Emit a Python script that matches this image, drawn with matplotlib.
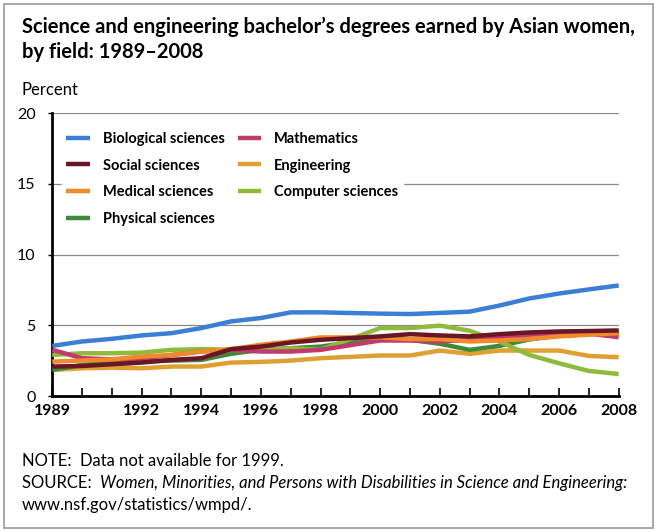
import matplotlib.pyplot as plt
from matplotlib.patches import Rectangle

# 1999 not available -> skipped
years = [1989, 1990, 1991, 1992, 1993, 1994, 1995, 1996, 1997, 1998,
         2000, 2001, 2002, 2003, 2004, 2005, 2006, 2007, 2008]

biological = [3.55, 3.86, 4.05, 4.29, 4.45, 4.81, 5.28, 5.52, 5.92, 5.92,
              5.83, 5.80, 5.88, 5.97, 6.40, 6.90, 7.25, 7.54, 7.82]
social = [2.09, 2.13, 2.25, 2.37, 2.56, 2.68, 3.32, 3.50, 3.79, 3.98,
          4.22, 4.38, 4.29, 4.22, 4.38, 4.50, 4.57, 4.60, 4.64]
medical = [2.44, 2.51, 2.60, 2.80, 2.91, 3.15, 3.32, 3.63, 3.86, 4.15,
           4.15, 4.03, 4.03, 3.86, 3.93, 4.03, 4.22, 4.34, 4.45]
physical = [1.85, 2.20, 2.37, 2.44, 2.51, 2.56, 2.99, 3.27, 3.39, 3.50,
            4.10, 3.98, 3.70, 3.27, 3.55, 4.00, 4.30, 4.40, 4.50]
mathematics = [3.27, 2.68, 2.60, 2.68, 2.90, 3.15, 3.27, 3.15, 3.15, 3.27,
               3.93, 3.93, 3.86, 3.98, 4.10, 4.34, 4.45, 4.41, 4.17]
engineering = [1.85, 1.97, 2.01, 1.97, 2.09, 2.09, 2.37, 2.42, 2.51, 2.68,
               2.87, 2.87, 3.22, 2.99, 3.22, 3.22, 3.22, 2.84, 2.75]
computer = [2.91, 3.03, 3.03, 3.08, 3.27, 3.32, 3.27, 3.22, 3.39, 3.27,
            4.81, 4.81, 4.98, 4.62, 3.86, 2.91, 2.32, 1.78, 1.56]

series = [
    ("Biological sciences", biological, "#3b7fd4"),
    ("Social sciences", social, "#6a1626"),
    ("Medical sciences", medical, "#f08a2a"),
    ("Physical sciences", physical, "#3f8a3a"),
    ("Mathematics", mathematics, "#c23a6a"),
    ("Engineering", engineering, "#dfa032"),
    ("Computer sciences", computer, "#8fba3c"),
]
# dark lines on top, like the original
draw_order = ["Engineering", "Physical sciences", "Computer sciences",
              "Mathematics", "Medical sciences", "Social sciences",
              "Biological sciences"]

xticks_labeled = [1989, 1992, 1994, 1996, 1998, 2000, 2002, 2004, 2006, 2008]
yticks = [0, 5, 10, 15, 20]

FONT = "Lato"

fig = plt.figure(figsize=(6.61, 5.31), dpi=100)
fig.patches.append(Rectangle((0.006, 0.006), 0.982, 0.986, transform=fig.transFigure,
                             fill=False, edgecolor="#9a9a9a", linewidth=1.2))

ax = fig.add_axes([0.079, 0.254, 0.857, 0.533])

lines = {}
for name, vals, col in series:
    ln, = ax.plot(years, vals, color=col, linewidth=3.2, label=name,
                  solid_capstyle="butt")
    lines[name] = ln
for i, name in enumerate(draw_order):
    lines[name].set_zorder(2 + i)

ax.set_xlim(1989, 2008)
ax.set_ylim(0, 20)
for y in yticks[1:]:
    ax.axhline(y, color="#8a8a8a", linewidth=0.9, zorder=1)

ax.set_yticks(yticks)
ax.set_yticklabels([str(v) for v in yticks], fontsize=11.5, fontfamily=FONT)
ax.tick_params(axis="y", length=3, width=1, direction="out", pad=9)

ax.set_xticks(range(1989, 2009), minor=True)
ax.set_xticks(xticks_labeled)
ax.set_xticklabels([str(v) for v in xticks_labeled], fontsize=11.5,
                   fontfamily=FONT, fontweight="bold")
ax.tick_params(axis="x", which="both", direction="in", length=6, width=1.2, pad=6)

for s in ["top", "right"]:
    ax.spines[s].set_visible(False)
ax.spines["left"].set_linewidth(2)
ax.spines["bottom"].set_linewidth(2)

handles = [lines[n] for n, _, _ in series]
labels = [n for n, _, _ in series]
leg = ax.legend(handles, labels, ncol=2, loc="upper left", bbox_to_anchor=(0.012, 0.96),
                frameon=True, framealpha=1, edgecolor="white", facecolor="white",
                prop={"family": FONT, "weight": "bold", "size": 10.5},
                handlelength=1.6, handletextpad=0.9, columnspacing=0.9,
                labelspacing=0.88, borderpad=0.3, borderaxespad=0.2)
leg.set_zorder(20)

fig.text(0.033, 0.968, "Science and engineering bachelor\u2019s degrees earned by Asian women,\nby field: 1989\u20132008",
         fontsize=14.5, fontweight="bold", family=FONT, va="top", ha="left",
         linespacing=1.3)
fig.text(0.033, 0.83, "Percent", fontsize=12, family=FONT, ha="left", va="center")

fs = 12
fig.text(0.033, 0.132, "NOTE:  Data not available for 1999.", fontsize=fs,
         family=FONT, ha="left", va="center")
src = fig.text(0.033, 0.09, "SOURCE:  ", fontsize=fs, family=FONT, ha="left", va="center")
fig.canvas.draw()
bb = src.get_window_extent().transformed(fig.transFigure.inverted())
fig.text(bb.x1, 0.09, "Women, Minorities, and Persons with Disabilities in Science and Engineering:",
         fontsize=fs, family=FONT, style="italic", ha="left", va="center")
fig.text(0.033, 0.049, "www.nsf.gov/statistics/wmpd/.", fontsize=fs,
         family=FONT, ha="left", va="center")

fig.savefig("out.png", dpi=100, facecolor="white")
